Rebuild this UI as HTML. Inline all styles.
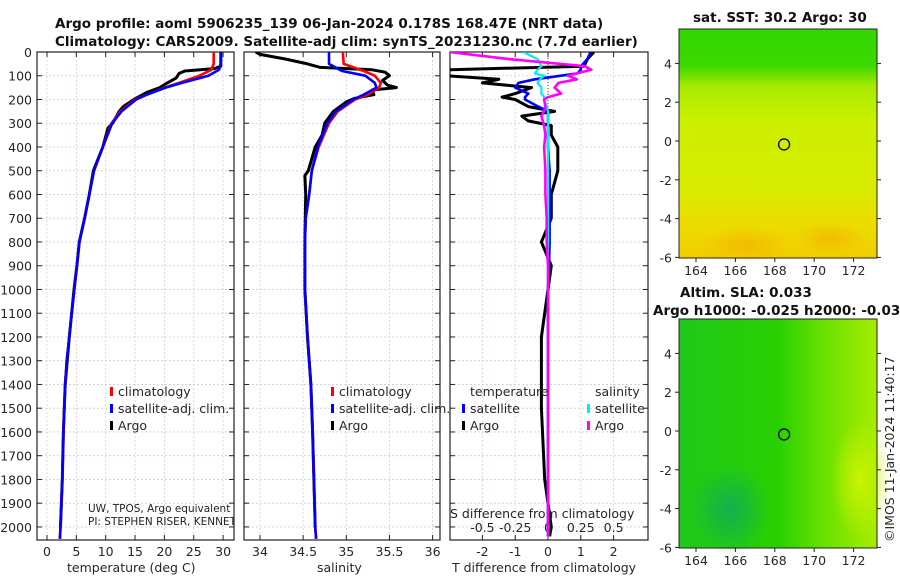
<!DOCTYPE html>
<html><head><meta charset="utf-8">
<style>
body{margin:0;background:#fff;}
svg{display:block;font-family:"DejaVu Sans","Liberation Sans",sans-serif;}
.t{font-size:12.5px;fill:#262626;}
.b{font-size:13.5px;font-weight:bold;fill:#111;}
</style></head>
<body>
<svg id="c" width="900" height="580" viewBox="0 0 900 580">
<defs>
<linearGradient id="g1" x1="0" y1="0" x2="0" y2="1">
<stop offset="0" stop-color="#30d800"/><stop offset="0.16" stop-color="#3cd800"/><stop offset="0.25" stop-color="#a6ea00"/><stop offset="0.4" stop-color="#ccf000"/><stop offset="0.7" stop-color="#d8ec00"/><stop offset="0.85" stop-color="#ecdc00"/><stop offset="1" stop-color="#f2cc00"/>
</linearGradient>
<linearGradient id="g2" x1="0" y1="0" x2="1" y2="0">
<stop offset="0" stop-color="#1fc81a"/><stop offset="0.5" stop-color="#28d000"/><stop offset="0.7" stop-color="#60e000"/><stop offset="1" stop-color="#a8ec00"/>
</linearGradient>
<radialGradient id="g3" cx="0.5" cy="0.5" r="0.5"><stop offset="0" stop-color="#12b050"/><stop offset="1" stop-color="#12b050" stop-opacity="0"/></radialGradient>
<radialGradient id="g4" cx="0.5" cy="0.5" r="0.5"><stop offset="0" stop-color="#f2b400"/><stop offset="1" stop-color="#f2b400" stop-opacity="0"/></radialGradient>
<radialGradient id="g5" cx="0.5" cy="0.5" r="0.5"><stop offset="0" stop-color="#c8f400"/><stop offset="1" stop-color="#c8f400" stop-opacity="0"/></radialGradient>
</defs>
<text class="b" x="55" y="28">Argo profile: aoml 5906235_139 06-Jan-2024 0.178S 168.47E (NRT data)</text>
<text class="b" x="55" y="46">Climatology: CARS2009. Satellite-adj clim: synTS_20231230.nc (7.7d earlier)</text>
<g id="root"></g>
</svg>
<script>
// ---- data ----
const depthsClimT = [0,50,75,100,130,150,180,200,250,300,400,500,600,700,800,900,1000,1100,1200,1300,1400,1500,1600,1800,2000,2050];
const climT = [28.4,28.4,28.0,26.0,22.5,20.0,17.0,15.0,12.5,11.0,9.5,8.0,7.2,6.4,5.5,5.1,4.65,4.2,3.8,3.35,3.1,2.95,2.8,2.6,2.3,2.2];
const satT  = [29.6,29.6,29.3,27.5,23.0,20.2,17.0,15.2,12.7,11.1,9.5,8.0,7.2,6.4,5.5,5.1,4.65,4.2,3.8,3.35,3.1,2.95,2.8,2.6,2.3,2.2];
const depthsArgoT = [0,60,70,80,90,110,130,150,170,200,230,250,300,320,400,500,600,700,800,900,1000,1200,1400,1600,1800,2000];
const argoT = [29.6,29.6,28.5,23.5,22.5,22.0,20.5,19.2,17.0,14.8,13.0,12.3,11.2,10.4,9.5,7.9,7.2,6.4,5.5,5.1,4.6,3.8,3.1,2.8,2.6,2.3];

const depthsClimS = [0,50,80,100,130,150,180,200,250,300,400,500,600,700,800,1000,1200,1400,1600,2000,2050];
const climS = [34.96,34.97,35.2,35.33,35.4,35.38,35.25,35.1,34.9,34.8,34.68,34.6,34.57,34.53,34.52,34.52,34.55,34.59,34.61,34.64,34.65];
const satS  = [34.8,34.8,34.95,35.22,35.33,35.35,35.2,35.08,34.88,34.78,34.67,34.6,34.57,34.53,34.52,34.52,34.55,34.59,34.61,34.64,34.65];
const depthsArgoS = [0,10,30,50,65,75,85,100,120,140,150,160,180,195,210,250,300,350,400,500,520,600,800,1000,1200,1400,1600,2000];
const argoS = [33.95,34.0,34.3,34.55,34.7,35.3,35.45,35.5,35.42,35.48,35.58,35.3,35.32,35.1,35.0,34.85,34.75,34.72,34.64,34.56,34.52,34.53,34.52,34.52,34.55,34.59,34.61,34.64];

const depthsDiff = [0,30,60,75,90,100,115,130,150,175,190,200,230,250,270,290,310,350,400,500,600,700,800,900,1000,1200,1500,1800,2000,2040];
const diffTsat = [1.3,1.2,1.0,1.0,0.9,0.4,-0.4,-0.9,-1.0,-0.6,-0.7,-0.7,-0.3,0,0,0,0,0,0,0.05,0.05,0.05,0.05,0.03,0,0,0,0,0,0];
const diffTargo = [1.4,1.2,1.1,-3.1,-3.1,-3.1,-1.5,-2.0,-0.5,-1.0,-1.4,-1.0,-0.6,0.2,-0.8,-0.6,0.1,0.1,0.3,0.3,0.1,0.1,-0.2,0.1,0,-0.2,-0.2,-0.1,0.1,0.05];
const diffSsat = [-0.19,-0.08,-0.05,-0.08,-0.1,-0.03,-0.06,-0.08,-0.05,-0.05,-0.03,-0.03,-0.01,0,0,0,0,0,0,0,0,0,0,0,0,0,0,0,0,0];
const diffSargo = [-0.75,-0.3,0.28,0.33,0.22,0.15,0.22,0.08,0.05,0.1,0,-0.03,-0.02,-0.03,-0.05,-0.04,-0.03,-0.02,-0.03,-0.02,-0.02,-0.01,-0.01,0,0,0,0,0,0,0];

const depthTicks = [0,100,200,300,400,500,600,700,800,900,1000,1100,1200,1300,1400,1500,1600,1700,1800,1900,2000];
const tTicks = [0,5,10,15,20,25,30];
const sTicks = [34,34.5,35,35.5,36];
const sTickLabels = ["34","34.5","35","35.5","36"];
const dTTicks = [-2,-1,0,1,2];
const dSTicks = [-0.5,-0.25,0,0.25,0.5];
const dSTickLabels = ["-0.5","-0.25","0","0.25","0.5"];
const lonTicks = [164,166,168,170,172];
const latTicks = [-6,-4,-2,0,2,4];

// ---- helpers ----
const NS="http://www.w3.org/2000/svg";
const root=document.getElementById('root');
function el(tag,attrs,parent){const e=document.createElementNS(NS,tag);for(const k in attrs)e.setAttribute(k,attrs[k]);(parent||root).appendChild(e);return e;}
const Y0=52,Y1=540;
const yD=d=>Y0+d*(Y1-Y0)/2055;
const xT=v=>47+v*5.87;
const xS=v=>260+(v-34)*86.3;
const xDT=v=>548+v*32.8;
const xDS=v=>548+v*4*32.8;

function panel(name,x0,x1,xticks,xfun,labels,depthLabels){
  const g=el('g',{});
  
  
  depthTicks.forEach(d=>{el('line',{x1:x0,x2:x1,y1:yD(d),y2:yD(d),stroke:'#c8c8ec','stroke-dasharray':'2,2','stroke-width':0.8},g);
    el('line',{x1:x0,x2:x0+5,y1:yD(d),y2:yD(d),stroke:'#222'},g);el('line',{x1:x1-5,x2:x1,y1:yD(d),y2:yD(d),stroke:'#222'},g);
    if(depthLabels){const t=el('text',{class:'t',x:x0-5,y:yD(d)+5,'text-anchor':'end'},g);t.textContent=d;
      
      }
  });
  xticks.forEach((v,i)=>{const x=xfun(v);el('line',{x1:x,x2:x,y1:Y0,y2:Y1,stroke:'#e8c8c8','stroke-dasharray':'2,2','stroke-width':0.8},g);
    el('line',{x1:x,x2:x,y1:Y1-5,y2:Y1,stroke:'#222'},g);el('line',{x1:x,x2:x,y1:Y0,y2:Y0+5,stroke:'#222'},g);
    if(labels){const t=el('text',{class:'t',x:x,y:556,'text-anchor':'middle'},g);t.textContent=labels[i];
      
      }
  });
  el('rect',{x:x0,y:Y0,width:x1-x0,height:Y1-Y0,fill:'none',stroke:'#222','stroke-width':1.2},g);
  return g;
}
function line(name,depths,vals,xf,color,w,clip){
  const p=el('polyline',{points:depths.map((d,i)=>xf(vals[i]).toFixed(1)+','+yD(d).toFixed(1)).join(' '),fill:'none',stroke:color,'stroke-width':w||2.6,'stroke-linejoin':'round','clip-path':'url(#'+clip+')'});
  
  
}
function txt(name,x,y,s,cls,extra){const t=el('text',Object.assign({class:cls||'t',x:x,y:y},extra||{}));t.textContent=s;
  
  return t;}
function mark(name,x,y,c){const r=el('rect',{x:x,y:y-10,width:3,height:9,fill:c});
  
  }

const cp=el('clipPath',{id:'cp3'});el('rect',{x:450,y:Y0,width:199,height:Y1-Y0},cp);
const cp1=el('clipPath',{id:'cp1'});el('rect',{x:37,y:Y0,width:197,height:Y1-Y0},cp1);
const cp2=el('clipPath',{id:'cp2'});el('rect',{x:244,y:Y0,width:196,height:Y1-Y0},cp2);

// Panel 1
panel('temperature-panel',37,234,tTicks,xT,tTicks.map(String),true);
txt('x-axis-title-temperature',67,572,'temperature (deg C)');
line('argo-temperature-line',depthsArgoT,argoT,xT,'#000',3,'cp1');
line('climatology-temperature-line',depthsClimT,climT,xT,'#f00',2.6,'cp1');
line('satellite-temperature-line',depthsClimT,satT,xT,'#00f',2.6,'cp1');
mark('legend-climatology-marker',110,397,'#f00');txt('legend-climatology',118,396,'climatology');
mark('legend-satellite-marker',110,414,'#00f');txt('legend-satellite-adj',118,413,'satellite-adj. clim.');
mark('legend-argo-marker',110,431,'#000');txt('legend-argo',118,430,'Argo');
const g1=el('g',{'clip-path':'url(#cp1)'});
const a=el('text',{x:88,y:512,'font-size':'10.5px',fill:'#222'},g1);a.textContent='UW, TPOS, Argo equivalent';


const b=el('text',{x:88,y:525,'font-size':'10.5px',fill:'#222'},g1);b.textContent='PI: STEPHEN RISER, KENNETH';



// Panel 2
panel('salinity-panel',244,440,sTicks,xS,sTickLabels,false);
txt('x-axis-title-salinity',317,572,'salinity');
line('argo-salinity-line',depthsArgoS,argoS,xS,'#000',3,'cp2');
line('climatology-salinity-line',depthsClimS,climS,xS,'#f00',2.6,'cp2');
line('satellite-salinity-line',depthsClimS,satS,xS,'#00f',2.6,'cp2');
mark('legend2-climatology-marker',331,397,'#f00');txt('legend2-climatology',339,396,'climatology');
mark('legend2-satellite-marker',331,414,'#00f');txt('legend2-satellite-adj',339,413,'satellite-adj. clim.');
mark('legend2-argo-marker',331,431,'#000');txt('legend2-argo',339,430,'Argo');

// Panel 3
panel('difference-panel',450,648,dTTicks,xDT,dTTicks.map(String),false);
el('line',{x1:548,x2:548,y1:Y0,y2:Y1,stroke:'#444','stroke-dasharray':'1,2'});
dSTicks.forEach((v,i)=>{txt('s-diff-tick-label',xDS(v),532,dSTickLabels[i],'t',{'text-anchor':'middle'});});
txt('s-diff-axis-title',450,518,'S difference from climatology');
txt('t-diff-axis-title',452,572,'T difference from climatology');
line('argo-temperature-diff-line',depthsDiff,diffTargo,xDT,'#000',3,'cp3');
line('satellite-temperature-diff-line',depthsDiff,diffTsat,xDT,'#00f',2.6,'cp3');
line('satellite-salinity-diff-line',depthsDiff,diffSsat,xDS,'#0ee',2.2,'cp3');
line('argo-salinity-diff-line',depthsDiff,diffSargo,xDS,'#f0f',2.6,'cp3');
txt('legend3-temperature-heading',470,396,'temperature');
txt('legend3-salinity-heading',595,396,'salinity');
mark('legend3-t-sat-marker',462,414,'#00f');txt('legend3-t-satellite',470,413,'satellite');
mark('legend3-t-argo-marker',462,431,'#000');txt('legend3-t-argo',470,430,'Argo');
mark('legend3-s-sat-marker',587,414,'#0ee');txt('legend3-s-satellite',595,413,'satellite');
mark('legend3-s-argo-marker',587,431,'#f0f');txt('legend3-s-argo',595,430,'Argo');

// Maps
function map(name,y0,y1,lat0y,fillId,extras){
  const g=el('g',{});
  
  
  el('rect',{x:679,y:y0,width:198,height:y1-y0,fill:'url(#'+fillId+')'},g);
  extras(g);
  const lx=v=>696+(v-164)*19.7, ly=v=>lat0y-v*19.4;
  lonTicks.forEach(v=>{el('line',{x1:lx(v),x2:lx(v),y1:y1,y2:y1+4,stroke:'#222'},g);
    const t=el('text',{class:'t',x:lx(v),y:y1+17,'text-anchor':'middle'},g);t.textContent=v;
    
    });
  latTicks.forEach(v=>{const y=ly(v);if(y<y0-2||y>y1+3)return;el('line',{x1:675,x2:679,y1:y,y2:y,stroke:'#222'},g);el('line',{x1:877,x2:881,y1:y,y2:y,stroke:'#222'},g);
    const t=el('text',{class:'t',x:672,y:y+5,'text-anchor':'end'},g);t.textContent=v;
    
    });
  el('rect',{x:679,y:y0,width:198,height:y1-y0,fill:'none',stroke:'#222'},g);
  const c=el('circle',{cx:lx(168.47),cy:ly(-0.178),r:5.5,fill:'none',stroke:'#000','stroke-width':1.3},g);
  
  
}
map('sst-map',29,258,141,'g1',g=>{
  el('ellipse',{cx:745,cy:245,rx:45,ry:18,fill:'url(#g4)','fill-opacity':0.7},g);
  el('ellipse',{cx:830,cy:238,rx:35,ry:16,fill:'url(#g4)','fill-opacity':0.7},g);
});
map('sla-map',319,548,431,'g2',g=>{
  el('ellipse',{cx:730,cy:510,rx:40,ry:45,fill:'url(#g3)'},g);
  el('ellipse',{cx:860,cy:480,rx:30,ry:60,fill:'url(#g5)'},g);
});
txt('sst-map-title',693,22,'sat. SST: 30.2 Argo: 30','b');
txt('sla-map-title-1',680,297,'Altim. SLA: 0.033','b');
txt('sla-map-title-2',653,315,'Argo h1000: -0.025 h2000: -0.038','b');
txt('imos-timestamp',0,0,'©IMOS 11-Jan-2024 11:40:17','t',{transform:'translate(894,542) rotate(-90)'});
</script>
</body></html>
